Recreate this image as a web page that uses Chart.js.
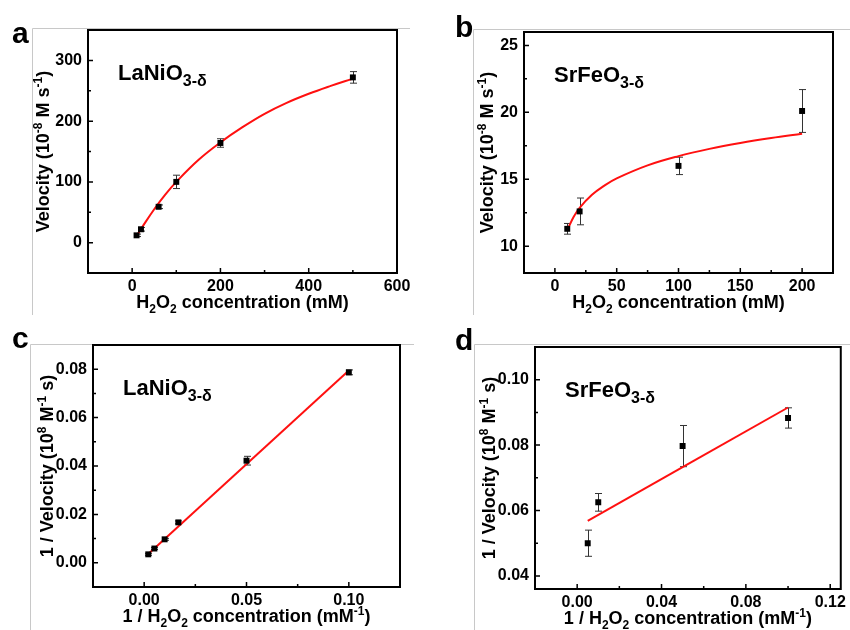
<!DOCTYPE html>
<html>
<head>
<meta charset="utf-8">
<script src="https://cdn.jsdelivr.net/npm/chart.js@4.4.1/dist/chart.umd.min.js"></script>
<style>
  body { margin: 0; background: #fff; }
  #fig { position: relative; width: 850px; height: 630px; overflow: hidden; }
  #fig canvas { position: absolute; }
</style>
</head>
<body>
<div id="fig">
  <canvas id="chartA" width="420" height="315" style="left:0;top:0"></canvas>
  <canvas id="chartB" width="430" height="315" style="left:420px;top:0"></canvas>
  <canvas id="chartC" width="420" height="315" style="left:0;top:315px"></canvas>
  <canvas id="chartD" width="430" height="315" style="left:420px;top:315px"></canvas>
</div>
<script>
// --- datos ---
// a: LaNiO3-d, velocidad vs concentracion
const concA = [10, 20, 60, 100, 200, 500];
const velA = [12, 22, 59, 100, 164, 272];
const errA = [2, 3, 3, 11, 7, 9.5];
const fitConcA = [10, 25, 50, 75, 100, 150, 200, 250, 300, 350, 400, 450, 500];
const fitVelA = [11, 28, 55, 79, 100, 136, 165, 190, 212, 230, 245, 258, 270];

// b: SrFeO3-d
const concB = [10, 20, 100, 200];
const velB = [11.3, 12.6, 16.0, 20.1];
const errB = [0.4, 1.0, 0.65, 1.6];
const fitConcB = [10, 15, 20, 30, 40, 50, 75, 100, 125, 150, 175, 200];
const fitVelB = [11.2, 12.17, 12.87, 13.84, 14.53, 15.07, 16.04, 16.73, 17.27, 17.71, 18.08, 18.4];

// c: Lineweaver-Burk LaNiO3-d
const invConcC = [0.002, 0.005, 0.01, 0.0167, 0.05, 0.1];
const invVelC = [0.0035, 0.0059, 0.0097, 0.0167, 0.0422, 0.0787];
const errC = [0.0004, 0.0004, 0.0004, 0.0006, 0.0018, 0.001];
const fitInvConcC = [0.002, 0.1];
const fitInvVelC = [0.0036, 0.0795];

// d: Lineweaver-Burk SrFeO3-d
const invConcD = [0.005, 0.01, 0.05, 0.1];
const invVelD = [0.050, 0.0625, 0.0797, 0.0883];
const errD = [0.004, 0.0027, 0.0063, 0.0031];
const fitInvConcD = [0.005, 0.1];
const fitInvVelD = [0.0568, 0.0915];

// ticks
const xMajorA = [0, 200, 400, 600], xMinorA = [100, 300, 500];
const yMajorA = [0, 100, 200, 300], yMinorA = [50, 150, 250];
const xMajorB = [0, 50, 100, 150, 200], xMinorB = [25, 75, 125, 175];
const yMajorB = [10, 15, 20, 25], yMinorB = [12.5, 17.5, 22.5];
const xMajorC = [0, 0.05, 0.10], xMinorC = [0.025, 0.075];
const yMajorC = [0, 0.02, 0.04, 0.06, 0.08], yMinorC = [0.01, 0.03, 0.05, 0.07];
const xMajorD = [0, 0.04, 0.08, 0.12], xMinorD = [0.02, 0.06, 0.10];
const yMajorD = [0.04, 0.06, 0.08, 0.10], yMinorD = [0.05, 0.07, 0.09];

const FONT = '"Liberation Sans", Arial, Helvetica, sans-serif';

// textos con sub/superindices: [texto, modo]
const velTitle = [['Velocity (10', ''], ['-8', 'sup'], [' M s', ''], ['-1', 'sup'], [')', '']];
const concTitle = [['H', ''], ['2', 'sub'], ['O', ''], ['2', 'sub'], [' concentration (mM)', '']];
const invVelTitle = [['1 / Velocity (10', ''], ['8', 'sup'], [' M', ''], ['-1', 'sup'], [' s)', '']];
const invConcTitle = [['1 / H', ''], ['2', 'sub'], ['O', ''], ['2', 'sub'], [' concentration (mM', ''], ['-1', 'sup'], [')', '']];
const lanio = [['LaNiO', ''], ['3-\u03b4', 'sub']];
const srfeo = [['SrFeO', ''], ['3-\u03b4', 'sub']];

function partFont(mode, size, subScale) {
  const s = mode ? Math.round(size * subScale) : size;
  return 'bold ' + s + 'px ' + FONT;
}

// dibuja texto rico; align 'center' (y = linea media) o 'left' (y = linea base)
function drawRich(ctx, parts, x, y, size, align, rotate, subScale) {
  subScale = subScale || 0.65;
  ctx.save();
  ctx.translate(x, y);
  if (rotate) ctx.rotate(-Math.PI / 2);
  ctx.fillStyle = '#000';
  ctx.textAlign = 'left';
  ctx.textBaseline = 'alphabetic';
  let total = 0;
  parts.forEach(p => { ctx.font = partFont(p[1], size, subScale); total += ctx.measureText(p[0]).width; });
  let cx = align === 'center' ? -total / 2 : 0;
  const base = align === 'center' ? size * 0.36 : 0;
  parts.forEach(p => {
    ctx.font = partFont(p[1], size, subScale);
    let dy = 0;
    if (p[1] === 'sub') dy = size * 0.25;
    if (p[1] === 'sup') dy = -size * 0.42;
    ctx.fillText(p[0], cx, base + dy);
    cx += ctx.measureText(p[0]).width;
  });
  ctx.restore();
}

function panelPlugin(p) {
  return {
    id: 'panel' + p.letter,
    beforeDatasetsDraw(chart) {
      const ctx = chart.ctx, xs = chart.scales.x, ys = chart.scales.y;
      ctx.save();
      ctx.strokeStyle = '#333';
      ctx.lineWidth = 1;
      p.xs.forEach((v, i) => {
        const px = Math.round(xs.getPixelForValue(v)) + 0.5;
        const t = ys.getPixelForValue(p.ys[i] + p.errs[i]);
        const b = ys.getPixelForValue(p.ys[i] - p.errs[i]);
        ctx.beginPath();
        ctx.moveTo(px, t); ctx.lineTo(px, b);
        ctx.moveTo(px - 3.5, t); ctx.lineTo(px + 3.5, t);
        ctx.moveTo(px - 3.5, b); ctx.lineTo(px + 3.5, b);
        ctx.stroke();
      });
      ctx.restore();
    },
    afterDraw(chart) {
      const ctx = chart.ctx, a = chart.chartArea;
      const xs = chart.scales.x, ys = chart.scales.y;
      ctx.save();
      // bordes grises del panel original
      ctx.strokeStyle = '#c8c8c8';
      ctx.lineWidth = 1;
      ctx.beginPath();
      ctx.moveTo(p.gray.x + 0.5, chart.height);
      ctx.lineTo(p.gray.x + 0.5, p.gray.y + 0.5);
      ctx.lineTo(p.gray.right, p.gray.y + 0.5);
      ctx.stroke();
      // marco
      ctx.strokeStyle = '#000';
      ctx.lineWidth = 2;
      ctx.strokeRect(a.left, a.top, a.right - a.left, a.bottom - a.top);
      // marcas de ejes hacia dentro
      ctx.lineWidth = 1.5;
      ctx.beginPath();
      p.xMajor.forEach(v => { const px = xs.getPixelForValue(v); ctx.moveTo(px, a.bottom + 1); ctx.lineTo(px, a.bottom - 5); });
      p.xMinor.forEach(v => { const px = xs.getPixelForValue(v); ctx.moveTo(px, a.bottom); ctx.lineTo(px, a.bottom - 3); });
      p.yMajor.forEach(v => { const py = ys.getPixelForValue(v); ctx.moveTo(a.left - 1, py); ctx.lineTo(a.left + 5, py); });
      p.yMinor.forEach(v => { const py = ys.getPixelForValue(v); ctx.moveTo(a.left, py); ctx.lineTo(a.left + 3, py); });
      ctx.stroke();
      ctx.restore();
      // titulos
      drawRich(ctx, p.xTitle, (a.left + a.right) / 2, a.bottom + 29, 18, 'center', false);
      drawRich(ctx, p.yTitle, p.yTitleX, (a.top + a.bottom) / 2, 18, 'center', true);
      drawRich(ctx, p.name, a.left + 30, a.top + 50, 22, 'left', false, 0.72);
      ctx.save();
      ctx.fillStyle = '#000';
      ctx.font = 'bold 30px ' + FONT;
      ctx.textBaseline = 'alphabetic';
      ctx.fillText(p.letter, p.letterX, p.letterY);
      ctx.restore();
    }
  };
}

function makePanel(id, p) {
  const canvas = document.getElementById(id);
  const W = canvas.width, H = canvas.height;
  const fmt = v => p.decimals ? Number(v).toFixed(p.decimals) : String(Math.round(v));
  new Chart(canvas, {
    type: 'scatter',
    data: {
      datasets: [
        {
          data: p.xs.map((v, i) => ({ x: v, y: p.ys[i] })),
          pointStyle: 'rect',
          pointRadius: 4.2,
          backgroundColor: '#000',
          borderColor: '#000',
          borderWidth: 0,
          showLine: false
        },
        {
          data: p.fitX.map((v, i) => ({ x: v, y: p.fitY[i] })),
          showLine: true,
          pointRadius: 0,
          borderColor: '#ff1010',
          borderWidth: 2,
          tension: 0.4,
          fill: false
        }
      ]
    },
    options: {
      responsive: false,
      animation: false,
      devicePixelRatio: 1,
      layout: { padding: { top: p.area.top, right: W - p.area.right, left: 0, bottom: 0 } },
      plugins: { legend: { display: false }, tooltip: { enabled: false } },
      scales: {
        x: {
          type: 'linear',
          min: p.xMin, max: p.xMax,
          afterBuildTicks: s => { s.ticks = p.xMajor.map(v => ({ value: v })); },
          afterFit: s => { s.height = H - p.area.bottom; },
          grid: { display: false, drawTicks: false },
          border: { display: false },
          ticks: { color: '#000', padding: 4, maxRotation: 0, autoSkip: false,
                   font: { family: FONT, size: 16, weight: 'bold' }, callback: v => fmt(v) }
        },
        y: {
          type: 'linear',
          min: p.yMin, max: p.yMax,
          afterBuildTicks: s => { s.ticks = p.yMajor.map(v => ({ value: v })); },
          afterFit: s => { s.width = p.area.left; },
          grid: { display: false, drawTicks: false },
          border: { display: false },
          ticks: { color: '#000', padding: 6, autoSkip: false,
                   font: { family: FONT, size: 16, weight: 'bold' }, callback: v => fmt(v) }
        }
      }
    },
    plugins: [panelPlugin(p)]
  });
}

makePanel('chartA', {
  letter: 'a', letterX: 12, letterY: 43,
  xs: concA, ys: velA, errs: errA, fitX: fitConcA, fitY: fitVelA,
  xMin: -100, xMax: 600, yMin: -50, yMax: 350,
  xMajor: xMajorA, xMinor: xMinorA, yMajor: yMajorA, yMinor: yMinorA, decimals: 0,
  area: { left: 88, right: 397, top: 30, bottom: 273 },
  xTitle: concTitle, yTitle: velTitle, yTitleX: 43, name: lanio,
  gray: { x: 32, y: 28, right: 410 }
});
makePanel('chartB', {
  letter: 'b', letterX: 35, letterY: 37,
  xs: concB, ys: velB, errs: errB, fitX: fitConcB, fitY: fitVelB,
  xMin: -25, xMax: 225, yMin: 8, yMax: 26,
  xMajor: xMajorB, xMinor: xMinorB, yMajor: yMajorB, yMinor: yMinorB, decimals: 0,
  area: { left: 104, right: 413, top: 32, bottom: 273 },
  xTitle: concTitle, yTitle: velTitle, yTitleX: 67, name: srfeo,
  gray: { x: 53, y: 29, right: 430 }
});
makePanel('chartC', {
  letter: 'c', letterX: 12, letterY: 33,
  xs: invConcC, ys: invVelC, errs: errC, fitX: fitInvConcC, fitY: fitInvVelC,
  xMin: -0.025, xMax: 0.125, yMin: -0.01, yMax: 0.09,
  xMajor: xMajorC, xMinor: xMinorC, yMajor: yMajorC, yMinor: yMinorC, decimals: 2,
  area: { left: 93, right: 400, top: 30, bottom: 272 },
  xTitle: invConcTitle, yTitle: invVelTitle, yTitleX: 47, name: lanio,
  gray: { x: 30, y: 29, right: 414 }
});
makePanel('chartD', {
  letter: 'd', letterX: 35, letterY: 35,
  xs: invConcD, ys: invVelD, errs: errD, fitX: fitInvConcD, fitY: fitInvVelD,
  xMin: -0.02, xMax: 0.125, yMin: 0.036, yMax: 0.11,
  xMajor: xMajorD, xMinor: xMinorD, yMajor: yMajorD, yMinor: yMinorD, decimals: 2,
  area: { left: 115, right: 424, top: 32, bottom: 274 },
  xTitle: invConcTitle, yTitle: invVelTitle, yTitleX: 69, name: srfeo,
  gray: { x: 54, y: 29, right: 430 }
});
</script>
</body>
</html>
